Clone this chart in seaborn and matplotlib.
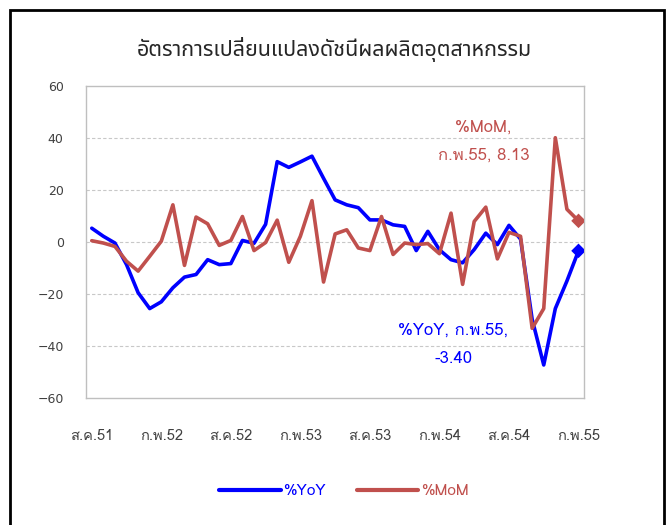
import matplotlib
matplotlib.use("Agg")
import numpy as np
import pandas as pd
import matplotlib.pyplot as plt
import seaborn as sns
from matplotlib.patches import Rectangle
from matplotlib.lines import Line2D

# ---------- data (Aug 2008 .. Feb 2012, monthly) ----------
month_idx = list(range(43))
tick_labels = ["ส.ค.51", "ก.พ.52", "ส.ค.52", "ก.พ.53", "ส.ค.53", "ก.พ.54", "ส.ค.54", "ก.พ.55"]

yoy = [5.3, 2.2, -0.4, -8.7, -19.5, -25.6, -23.0, -17.6, -13.5, -12.5,
       -6.8, -8.7, -8.3, 0.6, -0.5, 6.8, 30.9, 28.7, 30.8, 33.0,
       24.5, 16.2, 14.3, 13.2, 8.5, 8.5, 6.6, 6.0, -3.3, 4.1,
       -3.0, -6.8, -8.0, -2.9, 3.4, -1.0, 6.4, 1.1, -29.7, -47.3,
       -25.6, -15.0, -3.40]
mom = [0.5, -0.4, -1.7, -7.4, -11.2, -5.5, 0.3, 14.3, -9.0, 9.6,
       7.0, -1.3, 0.6, 9.8, -3.3, -0.2, 8.4, -7.8, 2.2, 15.9,
       -15.4, 3.1, 4.7, -2.3, -3.3, 9.8, -4.8, -0.4, -1.0, -0.6,
       -4.5, 11.1, -16.3, 7.9, 13.4, -6.5, 3.7, 2.2, -33.2, -25.6,
       40.1, 12.6, 8.13]

series_names = ["%YoY", "%MoM"]
colors = {"%YoY": "#0000FF", "%MoM": "#C0504D"}

df = pd.DataFrame({
    "month": month_idx * 2,
    "value": yoy + mom,
    "series": ["%YoY"] * len(yoy) + ["%MoM"] * len(mom),
})

# ---------- plot ----------
sns.set_style("white")
plt.rcParams["font.family"] = ["Loma", "DejaVu Sans"]

fig = plt.figure(figsize=(6.68, 5.25), dpi=100)
ax = fig.add_axes([0.1287, 0.2419, 0.746, 0.5943])

sns.lineplot(data=df, x="month", y="value", hue="series", palette=colors,
             linewidth=2.6, legend=False, ax=ax)

# diamond markers on the last point
last = df[df["month"] == month_idx[-1]]
sns.scatterplot(data=last, x="month", y="value", hue="series", palette=colors,
                marker="D", s=55, edgecolor="none", legend=False, ax=ax, zorder=5)

ax.set_xlim(-0.5, 42.5)
ax.set_ylim(-60, 60)
ax.set_yticks(np.arange(-60, 61, 20))
ax.set_xlabel("")
ax.set_ylabel("")

# labels centred on categories, tick marks on the boundaries
ax.set_xticks(np.arange(0, 43, 6))
ax.set_xticklabels(tick_labels)
ax.set_xticks(np.arange(-0.5, 43, 6), minor=True)
ax.tick_params(axis="x", which="major", length=0, pad=22, labelsize=10.5, labelcolor="#404040")
ax.tick_params(axis="x", which="minor", length=4, width=0.8, color="#BFBFBF", direction="out")
ax.tick_params(axis="y", length=0, pad=16, labelsize=9, labelcolor="#404040")
for lab in ax.get_yticklabels():
    lab.set_fontfamily("DejaVu Sans")

for y in [-40, -20, 0, 20, 40]:
    ax.axhline(y, color="#C8C8C8", linestyle=(0, (3, 2)), linewidth=0.8, zorder=0)

for side in ax.spines.values():
    side.set_color("#BFBFBF")
    side.set_linewidth(1.0)

# data labels
ax.text(33.8, 38.5, "%MoM,\nก.พ.55, 8.13", color="#C0504D", fontsize=12,
        ha="center", va="center", linespacing=2.0)
ax.text(31.2, -39.5, "%YoY, ก.พ.55,\n-3.40", color="#0000FF", fontsize=12,
        ha="center", va="center", linespacing=2.0)

fig.suptitle("อัตราการเปลี่ยนแปลงดัชนีผลผลิตอุตสาหกรรม", y=0.905, va="center",
             fontsize=15.5, family=["Noto Sans Thai", "DejaVu Sans"], fontweight="medium")

handles = [Line2D([0], [0], color=colors[n], lw=3) for n in series_names]
leg = fig.legend(handles, series_names, loc="center", bbox_to_anchor=(0.515, 0.065),
                 ncol=2, frameon=False, fontsize=11, handlelength=4.0,
                 handletextpad=0.2, columnspacing=2.0)
for t, n in zip(leg.get_texts(), series_names):
    t.set_color(colors[n])

# outer chart border
fig.patches.append(Rectangle((0.0155, -0.05), 0.978, 1.031, transform=fig.transFigure,
                             fill=False, edgecolor="black", linewidth=2.0))

fig.savefig("out.png", dpi=100)
